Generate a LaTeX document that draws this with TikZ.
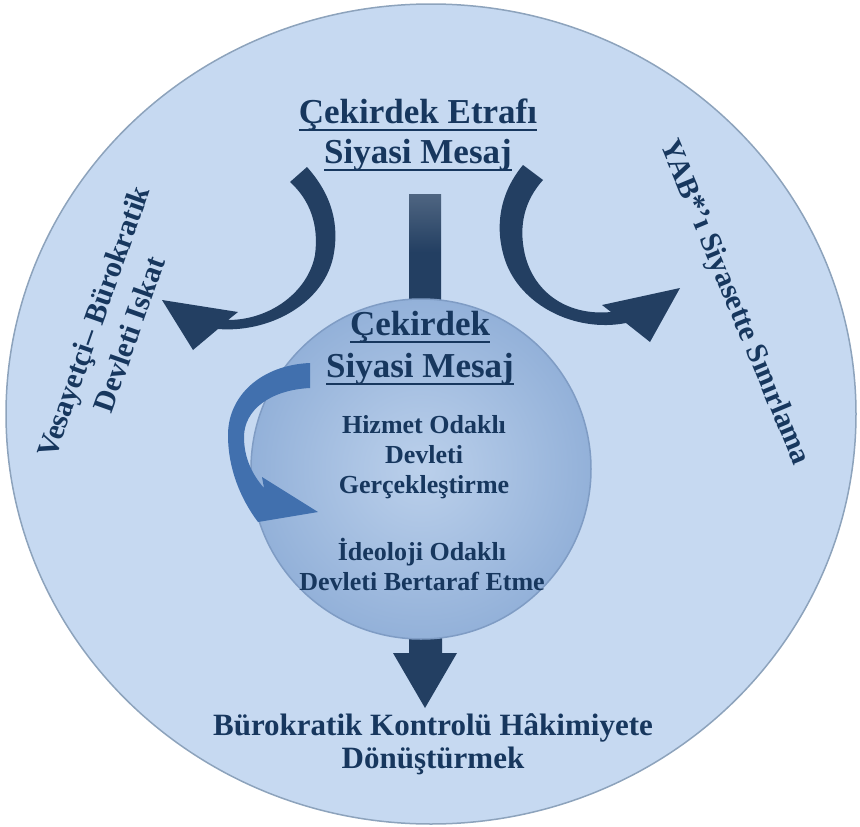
\documentclass[tikz,border=0pt]{standalone}
\usepackage{fontspec}
\setmainfont{Liberation Serif}

\definecolor{ringfill}{HTML}{C6D9F1}
\definecolor{ringedge}{HTML}{8DA3BC}
\definecolor{corelight}{HTML}{BBD0EB}
\definecolor{coredark}{HTML}{93B1D9}
\definecolor{coreedge}{HTML}{7F9CC4}
\definecolor{navy}{HTML}{233F62}
\definecolor{midblue}{HTML}{4170AE}
\definecolor{textblue}{HTML}{17375E}

% underline with a thick bar, like the reference
\newcommand{\ulbar}[1]{\setbox0\hbox{#1}\rlap{\rule[-8pt]{\wd0}{2.5pt}}\box0}

\begin{document}
\begin{tikzpicture}[x=1pt, y=-1pt, line join=round,
    label/.style={text=textblue, align=center, inner sep=0pt},
    headtext/.style={label, font=\fontsize{35}{40}\selectfont\bfseries},
    coretext/.style={label, font=\fontsize{35}{42}\selectfont\bfseries},
    smalltext/.style={label, font=\fontsize{26}{30}\selectfont\bfseries},
    sidetext/.style={label, font=\fontsize{30}{38}\selectfont\bfseries},
    bottomtext/.style={label, font=\fontsize{31}{33}\selectfont\bfseries},
    darkarrow/.style={fill=navy},
    lightarrow/.style={fill=midblue}]

    \useasboundingbox (0,0) rectangle (860,827);

    % ------------------------------------------------------------------
    % 1. Outer ring
    % ------------------------------------------------------------------
    \filldraw[fill=ringfill, draw=ringedge, line width=1.5pt]
        (431,414) ellipse [x radius=425, y radius=410];

    % ------------------------------------------------------------------
    % 2. Straight arrows (drawn behind the core)
    % ------------------------------------------------------------------
    \shade[top color=navy!80!white, bottom color=navy, middle color=navy]
        (409,194) rectangle (441,310);
    \fill[darkarrow] (409,625) -- (442,625) -- (442,653) -- (457,653)
        -- (425,708) -- (393,653) -- (409,653) -- cycle;

    % ------------------------------------------------------------------
    % 3. Curved arrows to both sides
    % ------------------------------------------------------------------
    \fill[darkarrow] (307,167) .. controls (332,195) and (340,225) .. (333,258)
        .. controls (322,305) and (268,333) .. (218,329)
        -- (193,350) -- (162,300) -- (238,312) -- (228,320)
        .. controls (270,320) and (308,292) .. (315,255)
        .. controls (319,225) and (310,200) .. (290,182) -- cycle;
    \fill[darkarrow] (523,165) .. controls (498,195) and (495,230) .. (505,260)
        .. controls (520,305) and (575,333) .. (626,323)
        -- (650,342) -- (680,288) -- (602,305) -- (611,312)
        .. controls (570,316) and (535,295) .. (525,255)
        .. controls (518,225) and (525,200) .. (543,180) -- cycle;

    % ------------------------------------------------------------------
    % 4. Core circle
    % ------------------------------------------------------------------
    \shade[inner color=corelight, outer color=coredark] (421,469) circle (170);
    \draw[coreedge, line width=1.5pt] (421,469) circle (170);

    % ------------------------------------------------------------------
    % 5. Curved arrow inside the core
    % ------------------------------------------------------------------
    \fill[lightarrow] (310,363) .. controls (262,365) and (228,395) .. (228,435)
        .. controls (228,468) and (240,498) .. (258,522)
        -- (318,512) -- (262,477) -- (264,488)
        .. controls (250,472) and (244,455) .. (244,437)
        .. controls (244,410) and (270,390) .. (310,388) -- cycle;

    % ------------------------------------------------------------------
    % 6. Texts (base = baseline of the last line)
    % ------------------------------------------------------------------
    \node[headtext, anchor=base] (ringtitle) at (418,163)
        {\ulbar{Çekirdek Etrafı}\\\ulbar{Siyasi Mesaj}};
    \node[coretext, anchor=base] (coretitle) at (420,377)
        {\ulbar{Çekirdek}\\\ulbar{Siyasi Mesaj}};
    \node[smalltext, anchor=base] (service) at (424,493)
        {Hizmet Odaklı\\Devleti\\Gerçekleştirme};
    \node[smalltext, anchor=base] (ideology) at (422,590)
        {İdeoloji Odaklı\\Devleti Bertaraf Etme};
    \node[bottomtext, anchor=base] (control) at (433,768)
        {Bürokratik Kontrolü Hâkimiyete\\Dönüştürmek};
    \node[sidetext, rotate=70.5] (tutelage) at (111,328)
        {Vesayetçi– Bürokratik\\Devleti Iskat};
    \node[sidetext, rotate=-67.4] (limits) at (734,303)
        {YAB*’ı Siyasette Sınırlama};

\end{tikzpicture}
\end{document}
